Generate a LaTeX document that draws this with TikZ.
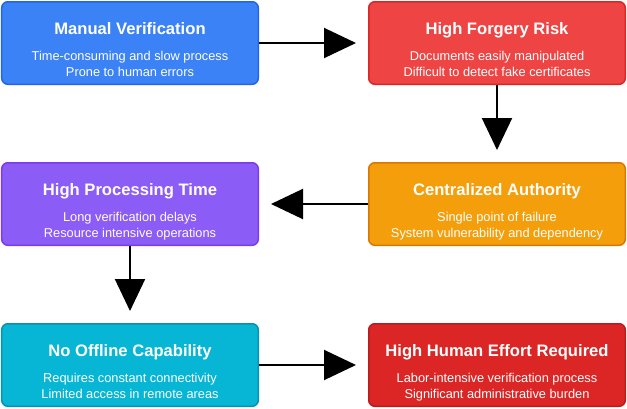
\documentclass[tikz,border=0pt]{standalone}
\usepackage{fontspec}
\setmainfont{Liberation Sans}
\usetikzlibrary{positioning, arrows.meta}
\definecolor{cvblue}{HTML}{3B82F6}
\definecolor{cvblueD}{HTML}{2563EB}
\definecolor{cvred}{HTML}{EF4444}
\definecolor{cvredD}{HTML}{DC2626}
\definecolor{cvpurple}{HTML}{8B5CF6}
\definecolor{cvpurpleD}{HTML}{7C3AED}
\definecolor{cvorange}{HTML}{F59E0B}
\definecolor{cvorangeD}{HTML}{D97706}
\definecolor{cvcyan}{HTML}{06B6D4}
\definecolor{cvcyanD}{HTML}{0891B2}
\definecolor{cvdred}{HTML}{DC2626}
\definecolor{cvdredD}{HTML}{B91C1C}

\begin{document}
\begin{tikzpicture}[
          card/.style={line width=1.5pt, rounded corners=6pt, minimum width=256.5pt, minimum height=82.5pt, inner sep=0pt},
          txt/.style={text=white, align=center, anchor=north, inner sep=0pt, font=\fontsize{12.8}{16.5}\selectfont},
          flow/.style={line width=2pt, -{Triangle[length=32pt,width=30pt]}, shorten >=12pt}]
        \node[card, fill=cvblue, draw=cvblueD] (mv) {};
        \node[card, fill=cvred, draw=cvredD, right=109pt of mv] (fr) {};
        \node[card, fill=cvorange, draw=cvorangeD, below=77pt of fr] (ca) {};
        \node[card, fill=cvpurple, draw=cvpurpleD, left=109pt of ca] (pt) {};
        \node[card, fill=cvcyan, draw=cvcyanD, below=77pt of pt] (oc) {};
        \node[card, fill=cvdred, draw=cvdredD, right=109pt of oc] (he) {};
        \useasboundingbox ([shift={(-1pt,1pt)}]mv.north west) rectangle ([shift={(1pt,-1pt)}]he.south east);
        % card texts
        \node[txt] (mvt) at ([yshift=-21pt]mv.north) {{\fontsize{16.6}{16.5}\selectfont\bfseries Manual Verification}\\[9.5pt]Time-consuming and slow process\\Prone to human errors};
        \node[txt] (frt) at ([yshift=-21pt]fr.north) {{\fontsize{16.6}{16.5}\selectfont\bfseries High Forgery Risk}\\[9.5pt]Documents easily manipulated\\Difficult to detect fake certificates};
        \node[txt] (cat) at ([yshift=-21pt]ca.north) {{\fontsize{16.6}{16.5}\selectfont\bfseries Centralized Authority}\\[9.5pt]Single point of failure\\System vulnerability and dependency};
        \node[txt] (ptt) at ([yshift=-21pt]pt.north) {{\fontsize{16.6}{16.5}\selectfont\bfseries High Processing Time}\\[9.5pt]Long verification delays\\Resource intensive operations};
        \node[txt] (oct) at ([yshift=-21pt]oc.north) {{\fontsize{16.6}{16.5}\selectfont\bfseries No Offline Capability}\\[9.5pt]Requires constant connectivity\\Limited access in remote areas};
        \node[txt] (het) at ([yshift=-21pt]he.north) {{\fontsize{16.6}{16.5}\selectfont\bfseries High Human Effort Required}\\[9.5pt]Labor-intensive verification process\\Significant administrative burden};
        % arrows
        \draw[flow] (mv) -- (fr);
        \draw[flow] (fr) -- (ca);
        \draw[flow] (ca) -- (pt);
        \draw[flow] (pt) -- (oc);
        \draw[flow] (oc) -- (he);
      \end{tikzpicture}
\end{document}
